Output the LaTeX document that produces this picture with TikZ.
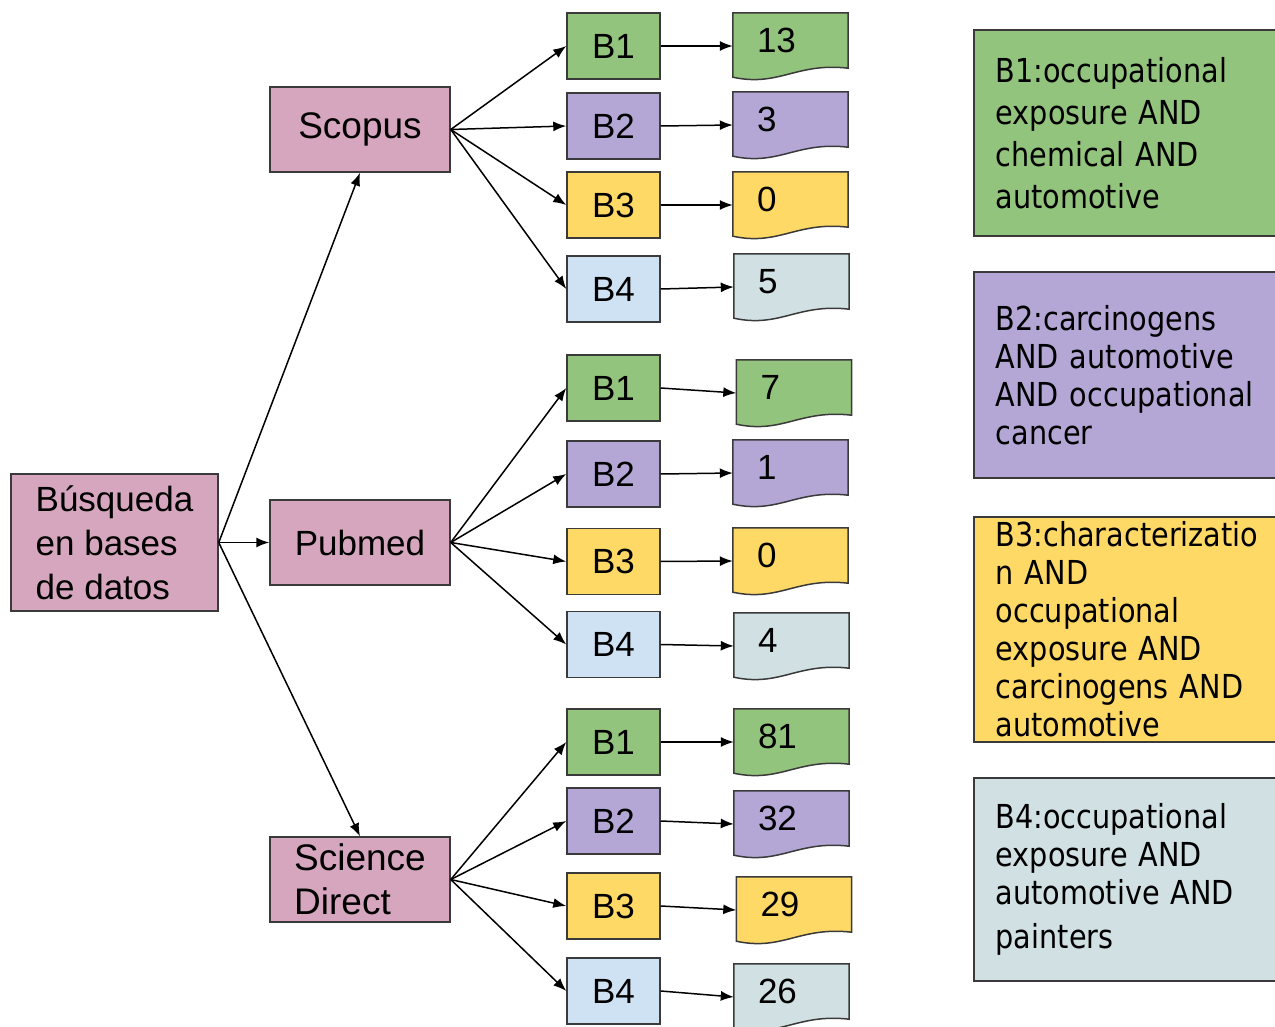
\documentclass[tikz,border=0pt]{standalone}
\usepackage{fontspec}
\setmainfont{Liberation Sans}
\newfontfamily\legendfont{DejaVu Sans}[FakeStretch=0.87]
\usetikzlibrary{arrows.meta,calc,backgrounds}

\definecolor{bgreen}{HTML}{93C47D}
\definecolor{bpurple}{HTML}{B4A7D6}
\definecolor{byellow}{HTML}{FFD966}
\definecolor{bblue}{HTML}{CFE2F3}
\definecolor{bgrey}{HTML}{D0E0E3}
\definecolor{bpink}{HTML}{D5A6BD}
\definecolor{bline}{HTML}{3A3A3A}

\tikzset{
  boxline/.style={draw=bline, line width=1.5pt, font=\fontsize{35}{44}\selectfont},
  dbbox/.style={boxline, fill=bpink, minimum width=180pt, minimum height=85pt, align=left},
  qbox/.style={boxline, fill=#1, minimum width=93pt, minimum height=66pt},
  docbox/.style={font=\fontsize{35}{44}\selectfont, minimum height=66pt, inner xsep=24pt,
    text width=67pt, align=left, text height=25pt, text depth=12pt},
  querynote/.style={draw=bline, line width=1.5pt, fill=#1, anchor=west, inner xsep=22pt,
    text width=300pt, align=left, font=\legendfont\fontsize{33}{38}\selectfont},
  link/.style={-{Latex[length=13pt,width=10pt]}, line width=1.5pt}
}

\begin{document}
\begin{tikzpicture}[x=1pt, y=-1pt]
\useasboundingbox (0,0) rectangle (1275,1027);
\clip (0,0) rectangle (1275,1027);

% search and databases
\node[dbbox, minimum width=207pt, minimum height=137pt] (busqueda) at (114.5,542.5) {Búsqueda\\en bases\\de datos};
\node[dbbox, font=\fontsize{37}{44}\selectfont] (scopus) at (360,129.5) {Scopus};
\node[dbbox] (pubmed) at (360,542.5) {Pubmed};
\node[dbbox, font=\fontsize{37}{44}\selectfont] (sdirect) at (360,879.5) {Science\\Direct};

\draw[link] (busqueda.east) -- (scopus.south);
\draw[link] (busqueda.east) -- (pubmed.west);
\draw[link] (busqueda.east) -- (sdirect.north);

% query boxes
\node[qbox=bgreen] (sc_b1) at (613.5,46) {B1};
\node[qbox=bpurple] (sc_b2) at (613.5,126) {B2};
\node[qbox=byellow] (sc_b3) at (613.5,205) {B3};
\node[qbox=bblue] (sc_b4) at (613.5,289) {B4};
\node[qbox=bgreen] (pm_b1) at (613.5,388) {B1};
\node[qbox=bpurple] (pm_b2) at (613.5,474) {B2};
\node[qbox=byellow] (pm_b3) at (613.5,561.5) {B3};
\node[qbox=bblue] (pm_b4) at (613.5,644.5) {B4};
\node[qbox=bgreen] (sd_b1) at (613.5,742) {B1};
\node[qbox=bpurple] (sd_b2) at (613.5,821) {B2};
\node[qbox=byellow] (sd_b3) at (613.5,906) {B3};
\node[qbox=bblue] (sd_b4) at (613.5,991) {B4};

% results
\node[docbox] (sc_n1) at (790.5,46) {13};
\node[docbox] (sc_n2) at (790.5,125) {3};
\node[docbox] (sc_n3) at (790.5,205) {0};
\node[docbox] (sc_n4) at (791.5,287) {5};
\node[docbox] (pm_n1) at (794,393) {7};
\node[docbox] (pm_n2) at (790.5,473) {1};
\node[docbox] (pm_n3) at (790.5,561) {0};
\node[docbox] (pm_n4) at (791.5,646) {4};
\node[docbox] (sd_n1) at (791.5,742) {81};
\node[docbox] (sd_n2) at (791.5,824) {32};
\node[docbox] (sd_n3) at (794,910) {29};
\node[docbox] (sd_n4) at (791.5,997) {26};

\begin{scope}[on background layer]
\foreach \n/\c in {sc_n1/bgreen, sc_n2/bpurple, sc_n3/byellow, sc_n4/bgrey,
                   pm_n1/bgreen, pm_n2/bpurple, pm_n3/byellow, pm_n4/bgrey,
                   sd_n1/bgreen, sd_n2/bpurple, sd_n3/byellow, sd_n4/bgrey}
  \draw[draw=bline, line width=1.5pt, fill=\c] (\n.north west) -- (\n.north east)
    -- ($(\n.south east)+(0,-11)$)
    .. controls ($(\n.south west)!0.55!(\n.south east)+(0,-17)$)
    and ($(\n.south west)!0.4!(\n.south east)+(0,8)$) .. ($(\n.south west)+(0,-2)$) -- cycle;
\end{scope}

\foreach \g/\src in {sc/scopus, pm/pubmed, sd/sdirect}
  \foreach \i in {1,...,4} {
    \draw[link] (\src.east) -- (\g_b\i.west);
    \draw[link] (\g_b\i.east) -- (\g_n\i.west);
  }

% query legend
\node[querynote=bgreen, minimum height=206pt, font=\legendfont\fontsize{33}{42}\selectfont] (q1) at (973,133) {B1:occupational\\exposure AND\\chemical AND\\automotive};
\node[querynote=bpurple, minimum height=206pt] (q2) at (973,375) {B2:carcinogens\\AND automotive\\AND occupational\\cancer};
\node[querynote=byellow, minimum height=225pt] (q3) at (973,629.5) {B3:characterizatio\\n AND\\occupational\\exposure AND\\carcinogens AND\\automotive};
\node[querynote=bgrey, minimum height=203pt] (q4) at (973,879.5) {B4:occupational\\exposure AND\\automotive AND\\[6pt]painters};
\end{tikzpicture}
\end{document}
